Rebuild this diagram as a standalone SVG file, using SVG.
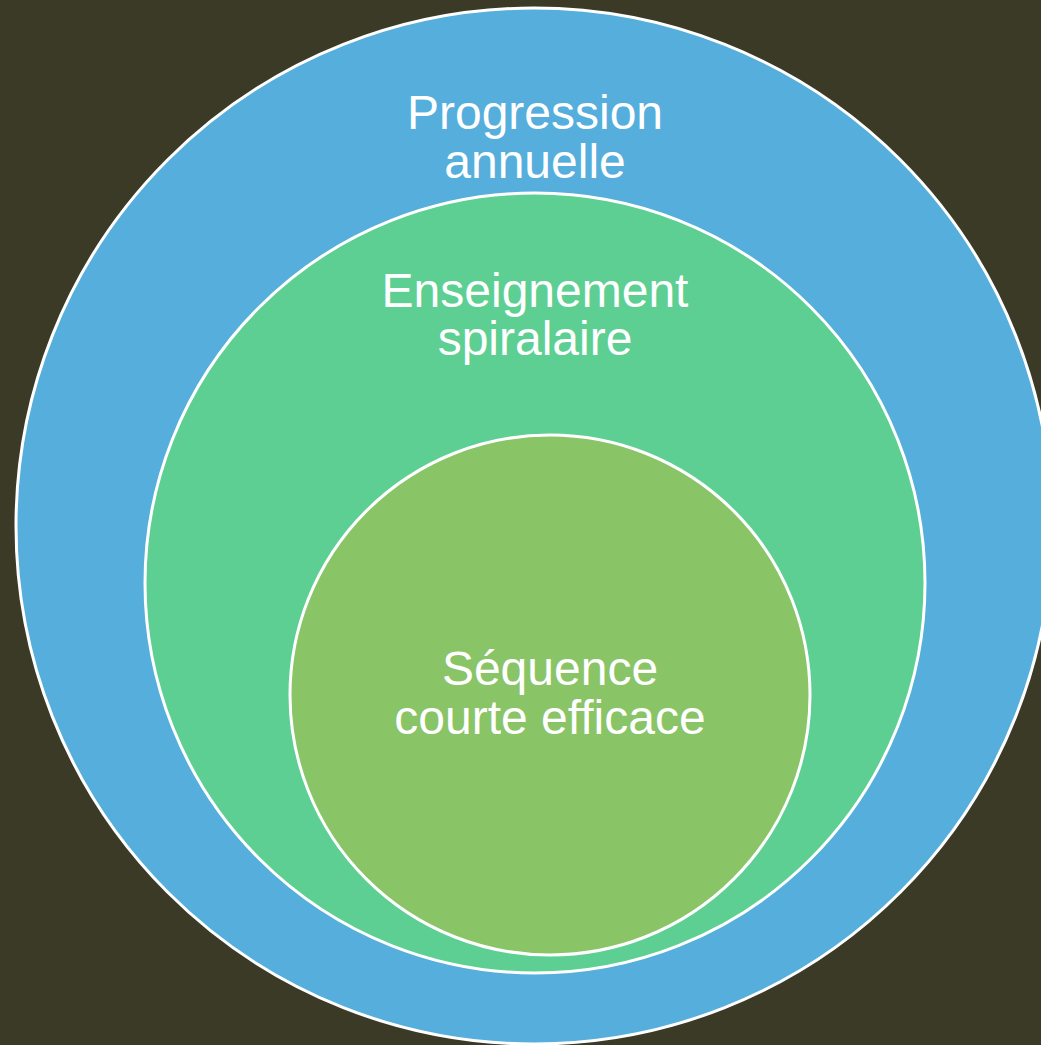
<svg xmlns="http://www.w3.org/2000/svg" width="1041" height="1045" viewBox="0 0 1041 1045">
<style>
.c{stroke:#ffffff;stroke-width:3}
.t{font-family:"Liberation Sans",Arial,sans-serif;font-size:48px;fill:#ffffff;text-anchor:middle}
</style>
<rect x="0" y="0" width="1041" height="1045" fill="#3b3a27"/>
<g id="outer">
<circle class="c" cx="534" cy="526" r="518" fill="#55aedb"/>
<text class="t" x="535" y="129">Progression</text>
<text class="t" x="535" y="178">annuelle</text>
</g>
<g id="middle">
<circle class="c" cx="535" cy="583" r="390" fill="#5dcf93"/>
<text class="t" x="535" y="307">Enseignement</text>
<text class="t" x="535" y="355">spiralaire</text>
</g>
<g id="inner">
<circle class="c" cx="550" cy="695" r="260" fill="#89c467"/>
<text class="t" x="550" y="685">Séquence</text>
<text class="t" x="550" y="734">courte efficace</text>
</g>
<g id="connectors"/>
</svg>
